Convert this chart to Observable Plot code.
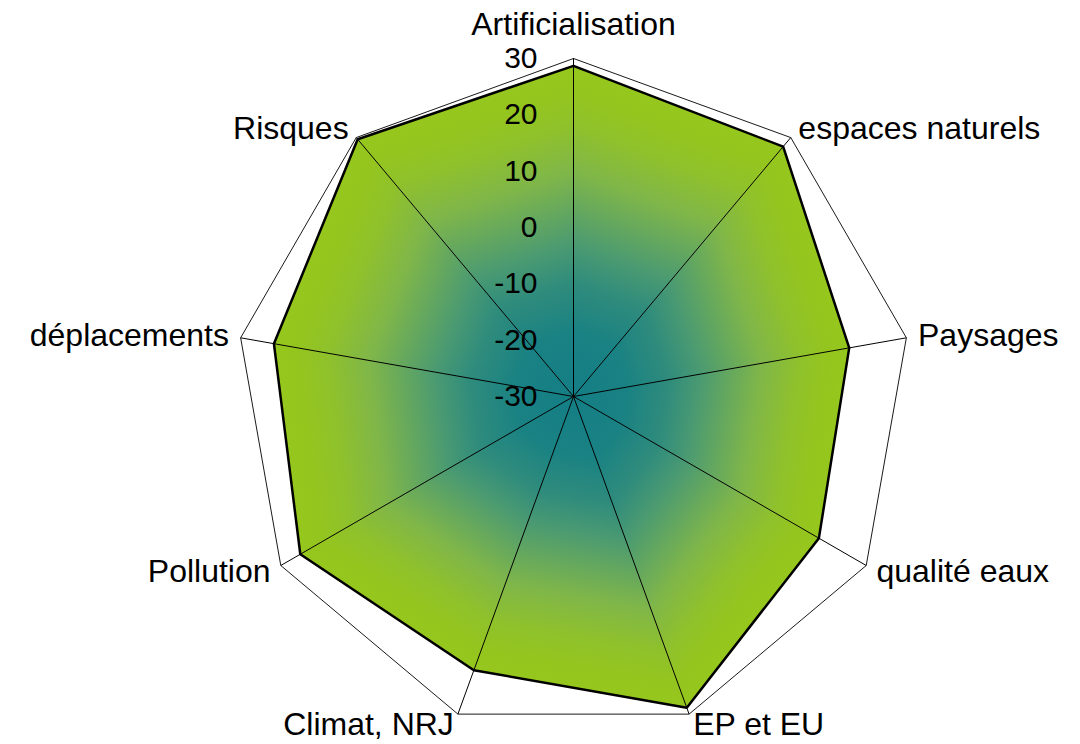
<!DOCTYPE html>
<html>
<head>
<meta charset="utf-8">
<script src="https://cdn.jsdelivr.net/npm/d3@7"></script>
<script src="https://cdn.jsdelivr.net/npm/@observablehq/plot@0.6"></script>
<style>
  html, body { margin: 0; padding: 0; background: #fff; }
  #chart { width: 1080px; height: 744px; }
</style>
</head>
<body>
<div id="chart"></div>
<script>
// ---- data ----
const categories = ["Artificialisation", "espaces naturels", "Paysages", "qualité eaux", "EP et EU", "Climat, NRJ", "Pollution", "déplacements", "Risques"];
const values = [28.7, 27.9, 19.7, 20.3, 28.8, 21.7, 26.0, 24.0, 29.6];
const tickValues = [-30, -20, -10, 0, 10, 20, 30];
const radialMin = -30;
const radialMax = 30;

// ---- geometry helpers ----
const n = categories.length;
const rScale = d3.scaleLinear([radialMin, radialMax], [0, 1]);
const angle = i => (2 * Math.PI * i) / n;
const rows = categories.map((c, i) => ({ cat: c, i, value: values[i] }));
const closed = [...rows, rows[0]];
const px = (i, r) => r * Math.sin(angle(i));
const py = (i, r) => r * Math.cos(angle(i));

// triangles (centre, vertex i, vertex i+1) for the path-style gradient fill
const triangles = rows.map((d, k) => {
  const e = rows[(k + 1) % n];
  return [
    { i: d.i, r: 0 },
    { i: d.i, r: rScale(d.value) },
    { i: e.i, r: rScale(e.value) },
    { i: d.i, r: 0 }
  ];
});

const R = 338, CX = 573, CY = 396;
const labelR = 1.035;
const font = "'Liberation Sans', Arial, sans-serif";

const plot = Plot.plot({
  width: 1080,
  height: 744,
  margin: 0,
  style: { background: "transparent", fontFamily: font, color: "#000" },
  x: { domain: [-CX / R, (1080 - CX) / R], axis: null },
  y: { domain: [-(744 - CY) / R, CY / R], axis: null },
  marks: [
    // filled data polygon, one triangle per sector
    ...triangles.map((tri, k) => Plot.line(tri, {
      x: d => px(d.i, d.r),
      y: d => py(d.i, d.r),
      fill: `url(#radarGrad${k})`,
      stroke: `url(#radarGrad${k})`,
      strokeWidth: 0.6
    })),
    // outer ring (value 30)
    Plot.line(closed, {
      x: d => px(d.i, rScale(radialMax)),
      y: d => py(d.i, rScale(radialMax)),
      stroke: "#1a1a1a",
      strokeWidth: 1
    }),
    // spokes
    Plot.link(rows, {
      x1: d => px(d.i, rScale(radialMin)),
      y1: d => py(d.i, rScale(radialMin)),
      x2: d => px(d.i, rScale(radialMax)),
      y2: d => py(d.i, rScale(radialMax)),
      stroke: "#000",
      strokeWidth: 1
    }),
    // data outline
    Plot.line(closed, {
      x: d => px(d.i, rScale(d.value)),
      y: d => py(d.i, rScale(d.value)),
      stroke: "#000",
      strokeWidth: 2.5,
      strokeLinejoin: "miter"
    }),
    // radial tick labels
    Plot.text(tickValues, {
      x: 0,
      y: d => rScale(d),
      text: d => String(d),
      textAnchor: "end",
      dx: -36,
      fontSize: 30,
      fill: "#000"
    }),
    // category labels: top
    Plot.text(rows.filter(d => Math.abs(Math.sin(angle(d.i))) < 1e-6), {
      x: d => px(d.i, labelR),
      y: d => py(d.i, labelR),
      text: "cat",
      textAnchor: "middle",
      dy: -22,
      fontSize: 32,
      fill: "#000"
    }),
    // category labels: right side
    Plot.text(rows.filter(d => Math.sin(angle(d.i)) > 1e-6), {
      x: d => px(d.i, labelR),
      y: d => py(d.i, labelR),
      text: "cat",
      textAnchor: "start",
      fontSize: 32,
      fill: "#000"
    }),
    // category labels: left side
    Plot.text(rows.filter(d => Math.sin(angle(d.i)) < -1e-6), {
      x: d => px(d.i, labelR),
      y: d => py(d.i, labelR),
      text: "cat",
      textAnchor: "end",
      fontSize: 32,
      fill: "#000"
    })
  ]
});

// linear gradients per sector: from centre to the foot of the perpendicular on the outer edge
const sx = plot.scale("x"), sy = plot.scale("y");
const ns = "http://www.w3.org/2000/svg";
const defs = document.createElementNS(ns, "defs");
const stops = [
  [0, "#147e86"],
  [0.2, "#1a8283"],
  [0.35, "#308c7c"],
  [0.46, "#4a9a72"],
  [0.56, "#62a660"],
  [0.68, "#7fb64a"],
  [0.82, "#8fc12c"],
  [0.92, "#94c51f"],
  [1, "#96c71d"]
];
const ox = sx.apply(0), oy = sy.apply(0);
rows.forEach((d, k) => {
  const e = rows[(k + 1) % n];
  const ax = sx.apply(px(d.i, rScale(d.value))), ay = sy.apply(py(d.i, rScale(d.value)));
  const bx = sx.apply(px(e.i, rScale(e.value))), by = sy.apply(py(e.i, rScale(e.value)));
  const dx = bx - ax, dy = by - ay;
  const t = ((ox - ax) * dx + (oy - ay) * dy) / (dx * dx + dy * dy);
  const fx = ax + t * dx, fy = ay + t * dy;
  const g = document.createElementNS(ns, "linearGradient");
  g.setAttribute("id", `radarGrad${k}`);
  g.setAttribute("gradientUnits", "userSpaceOnUse");
  g.setAttribute("x1", ox); g.setAttribute("y1", oy);
  g.setAttribute("x2", fx); g.setAttribute("y2", fy);
  for (const [o, c] of stops) {
    const s = document.createElementNS(ns, "stop");
    s.setAttribute("offset", o);
    s.setAttribute("stop-color", c);
    g.appendChild(s);
  }
  defs.appendChild(g);
});
plot.insertBefore(defs, plot.firstChild);

document.getElementById("chart").appendChild(plot);
</script>
</body>
</html>
